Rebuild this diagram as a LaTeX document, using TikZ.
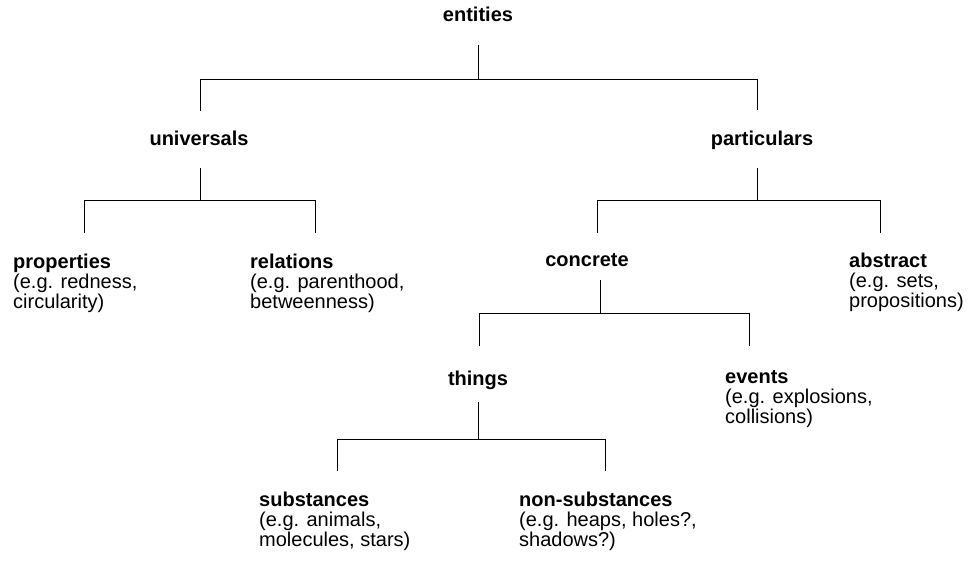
\documentclass[tikz,border=0pt]{standalone}
\usepackage{fontspec}
\setmainfont{Liberation Sans}
\usepackage{tikz}

\newcommand{\labelsize}{\fontsize{20}{20}\selectfont}

\tikzset{
  term/.style={font=\labelsize\bfseries, inner sep=0pt, anchor=base},
  entry/.style={font=\labelsize, align=left, inner sep=0pt, anchor=base west},
  branch/.style={line width=0.8pt}
}

\begin{document}
\begin{tikzpicture}[x=1pt, y=-1pt]
\useasboundingbox (0,0) rectangle (968,561);

% labels (entry nodes sit on the baseline of their last line)
\node[term] (ent) at (478,22) {entities};
\node[term] (univ) at (199,146) {universals};
\node[term] (part) at (762,146) {particulars};
\node[entry] (prop) at (13,308) {\textbf{properties}\\(e.g. redness,\\circularity)};
\node[entry] (rel) at (250,308) {\textbf{relations}\\(e.g. parenthood,\\betweenness)};
\node[term] (conc) at (587,266) {concrete};
\node[entry] (abst) at (849,307) {\textbf{abstract}\\(e.g. sets,\\propositions)};
\node[term] (thing) at (478,385) {things};
\node[entry] (evt) at (725,423) {\textbf{events}\\(e.g. explosions,\\collisions)};
\node[entry] (subs) at (259,546) {\textbf{substances}\\(e.g. animals,\\molecules, stars)};
\node[entry] (nons) at (519,546) {\textbf{non-substances}\\(e.g. heaps, holes?,\\shadows?)};

% entities
\coordinate (entS) at (478,45);
\coordinate (entJ) at (478,79);
\coordinate (entL) at (200,79);
\coordinate (entR) at (757,79);
\coordinate (univT) at (200,111);
\coordinate (partT) at (757,110);
\draw[branch] (entS) -- (entJ);
\draw[branch] (univT) -- (entL) -- (entR) -- (partT);

% universals
\coordinate (univS) at (200,168);
\coordinate (univJ) at (200,200);
\coordinate (univL) at (84,200);
\coordinate (univR) at (315,200);
\coordinate (propT) at (84,233);
\coordinate (relT) at (315,233);
\draw[branch] (univS) -- (univJ);
\draw[branch] (propT) -- (univL) -- (univR) -- (relT);

% particulars
\coordinate (partS) at (757,168);
\coordinate (partJ) at (757,200);
\coordinate (partL) at (597,200);
\coordinate (partR) at (880,200);
\coordinate (concT) at (597,233);
\coordinate (abstT) at (880,233);
\draw[branch] (partS) -- (partJ);
\draw[branch] (concT) -- (partL) -- (partR) -- (abstT);

% concrete
\coordinate (concS) at (600,280);
\coordinate (concJ) at (600,313);
\coordinate (concL) at (479,313);
\coordinate (concR) at (749,313);
\coordinate (thingT) at (479,346);
\coordinate (evtT) at (749,346);
\draw[branch] (concS) -- (concJ);
\draw[branch] (thingT) -- (concL) -- (concR) -- (evtT);

% things
\coordinate (thingS) at (478,402);
\coordinate (thingJ) at (478,439);
\coordinate (thingL) at (337,439);
\coordinate (thingR) at (605,439);
\coordinate (subsT) at (337,471);
\coordinate (nonsT) at (605,471);
\draw[branch] (thingS) -- (thingJ);
\draw[branch] (subsT) -- (thingL) -- (thingR) -- (nonsT);
\end{tikzpicture}
\end{document}
